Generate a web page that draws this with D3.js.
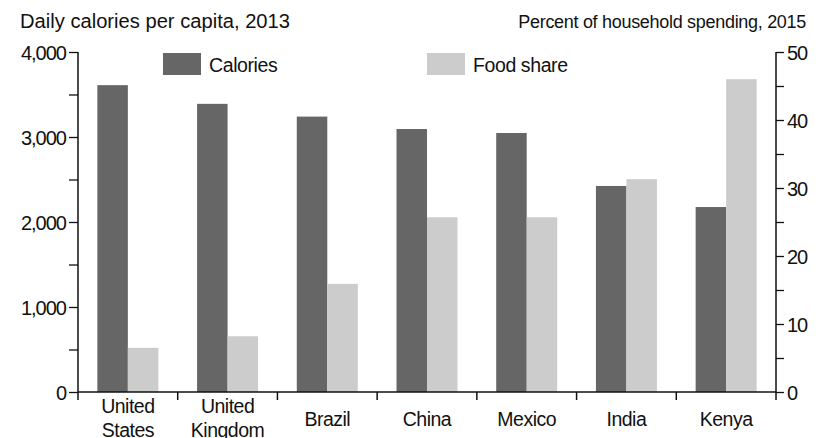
<!DOCTYPE html>
<html><head><meta charset="utf-8">
<script src="https://cdn.jsdelivr.net/npm/d3@7"></script>
<style>
body{margin:0;background:#fff;}
text{font-family:"Liberation Sans",Arial,sans-serif;fill:#111;}
</style></head>
<body><svg id="c" width="829" height="438"></svg>
<script>
const categories = [["United","States"],["United","Kingdom"],["Brazil"],["China"],["Mexico"],["India"],["Kenya"]];
const calories = [3610, 3390, 3240, 3094, 3047, 2424, 2176];
const foodShare = [6.5, 8.2, 15.9, 25.7, 25.7, 31.3, 46.0];
const leftTicks = [0, 1000, 2000, 3000, 4000];
const rightTicks = [0, 10, 20, 30, 40, 50];
const seriesNames = ["Calories", "Food share"];
const colors = ["#666666", "#cccccc"];

const svg = d3.select("#c");
const x0 = 78, x1 = 776, yTop = 52, yBot = 392;
const keys = categories.map((c,i)=>i);
const x = d3.scaleBand().domain(keys).range([x0, x1]).paddingInner(0).paddingOuter(0);
const yL = d3.scaleLinear().domain([0, 4000]).range([yBot, yTop]);
const yR = d3.scaleLinear().domain([0, 50]).range([yBot, yTop]);
const groupW = 61;
const xs = d3.scaleBand().domain([0,1]).range([0, groupW]);

// bars
const g = svg.append("g");
keys.forEach(i => {
  const off = x(i) + (x.bandwidth() - groupW)/2;
  g.append("rect").attr("x", off + xs(0)).attr("width", xs.bandwidth())
    .attr("y", yL(calories[i])).attr("height", yBot - yL(calories[i])).attr("fill", colors[0]);
  g.append("rect").attr("x", off + xs(1)).attr("width", xs.bandwidth())
    .attr("y", yR(foodShare[i])).attr("height", yBot - yR(foodShare[i])).attr("fill", colors[1]);
});

// left axis
const la = svg.append("g").attr("transform", `translate(${x0},0)`)
  .call(d3.axisLeft(yL).tickValues(d3.range(0, 4001, 500)).tickSize(9)
    .tickFormat(d => leftTicks.includes(d) ? d3.format(",")(d) : ""));
// right axis
const ra = svg.append("g").attr("transform", `translate(${x1},0)`)
  .call(d3.axisRight(yR).tickValues(d3.range(0, 51, 5)).tickSize(8)
    .tickFormat(d => rightTicks.includes(d) ? d : ""));
// bottom axis
const ba = svg.append("g").attr("transform", `translate(0,${yBot})`);
ba.append("line").attr("x1", x0).attr("x2", x1).attr("stroke", "#111").attr("stroke-width", 1.5);
keys.concat([keys.length]).forEach(i => {
  const xx = i < keys.length ? x(i) : x1;
  ba.append("line").attr("x1", xx).attr("x2", xx).attr("y1", 0).attr("y2", 8).attr("stroke", "#111").attr("stroke-width", 1.5);
});
[la, ra].forEach(a => {
  a.select(".domain").attr("stroke", "#111").attr("stroke-width", 1.5).attr("d", `M0,${yBot}V${yTop}`);
  a.selectAll(".tick line").attr("stroke", "#111").attr("stroke-width", 1.3);
  a.selectAll(".tick text").style("font-size", "20px").style("letter-spacing", "-1px")
    .style("font-family", "'Liberation Sans',Arial,sans-serif").attr("fill", "#111").attr("dy", "0.36em");
});
la.selectAll(".tick text").attr("x", -12);
ra.selectAll(".tick text").attr("x", 11);

// category labels
keys.forEach(i => {
  const cx = x(i) + x.bandwidth()/2;
  const lines = categories[i];
  const t = svg.append("text").attr("text-anchor", "middle").style("font-size", "19.5px").style("letter-spacing", "-0.5px");
  if (lines.length === 1) {
    t.append("tspan").attr("x", cx).attr("y", 426).text(lines[0]);
  } else {
    lines.forEach((l, k) => t.append("tspan").attr("x", cx).attr("y", 413 + k*23.5).text(l));
  }
});

// titles
svg.append("text").attr("x", 20).attr("y", 28).style("font-size", "19.5px")
  .attr("textLength", 270).attr("lengthAdjust", "spacingAndGlyphs")
  .text("Daily calories per capita, 2013");
svg.append("text").attr("x", 806).attr("y", 28).attr("text-anchor", "end")
  .style("font-size", "18px").style("letter-spacing", "-0.3px")
  .text("Percent of household spending, 2015");

// legend
const legX = [163, 427];
seriesNames.forEach((n, k) => {
  svg.append("rect").attr("x", legX[k]).attr("y", 53).attr("width", 38).attr("height", 22).attr("fill", colors[k]);
  svg.append("text").attr("x", legX[k] + 46).attr("y", 72).style("font-size", "19.5px").style("letter-spacing", "-0.4px").text(n);
});
</script></body></html>
